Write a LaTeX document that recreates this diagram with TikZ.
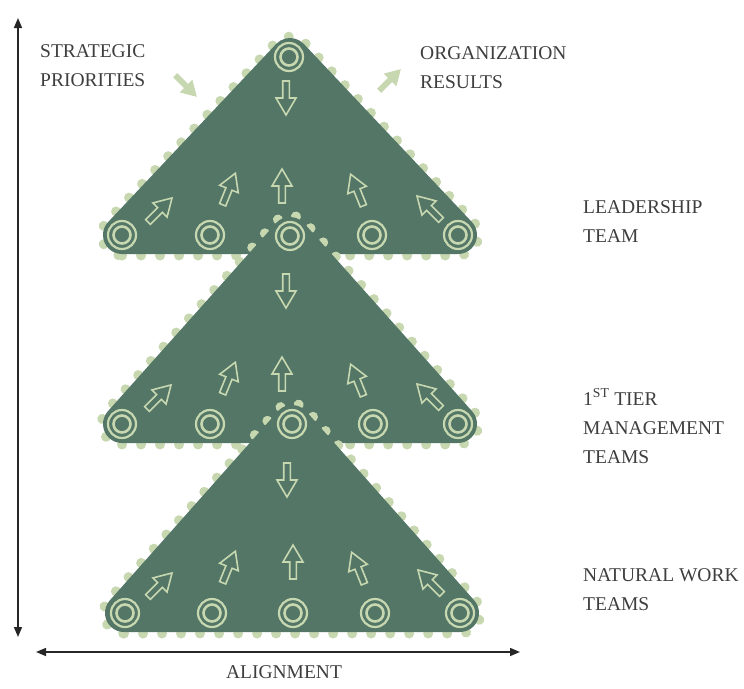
\documentclass[tikz,border=0pt]{standalone}
\usepackage{fontspec}
\setmainfont{Liberation Serif}
\usetikzlibrary{arrows.meta,calc}

\definecolor{pine}{RGB}{83,118,102}
\definecolor{sage}{RGB}{199,215,176}
\definecolor{inkgray}{RGB}{62,62,62}

\tikzset{
  lbl/.style={font=\fontsize{19.5}{29}\selectfont, text=inkgray, align=left, anchor=west, inner sep=0pt},
  bumps/.style={draw=sage, line width=10pt, line cap=round, dash pattern=on 0.01pt off 19pt},
  axis/.style={line width=1.5pt, draw=black!85,
    {Triangle[length=10pt,width=8pt]}-{Triangle[length=10pt,width=8pt]}},
  hollow/.style={draw=sage, line width=1.6pt, fill=pine, line join=miter},
  solid/.style={fill=sage, draw=none},
  pics/blockarrow/.style={code={
    \path[pic actions] (-17pt,-3.3pt) -- (0pt,-3.3pt) -- (0pt,-10pt) -- (17pt,0pt)
      -- (0pt,10pt) -- (0pt,3.3pt) -- (-17pt,3.3pt) -- cycle;
  }},
  pics/hub/.style={code={
    \draw[sage, line width=2.2pt] (0,0) circle[radius=14pt];
    \draw[sage, line width=2.6pt] (0,0) circle[radius=8.5pt];
  }},
}

% outline of a pyramid: the triangle pA-pL-pR grown by radius #1
\def\pyroutline#1{($(pL)+(-90:#1)$) -- ($(pR)+(-90:#1)$)
  arc[start angle=-90, end angle={90-\pang}, radius=#1]
  -- ($(pA)+({90-\pang}:#1)$)
  arc[start angle={90-\pang}, end angle={90+\pang}, radius=#1]
  -- ($(pL)+({90+\pang}:#1)$)
  arc[start angle={90+\pang}, end angle=270, radius=#1] -- cycle}

% #1 centre x, #2 apex y, #3 base y, #4 half width
\newcommand\pyramid[4]{%
  \pgfmathsetmacro\pang{atan2(#3-#2,#4)}%
  \coordinate (pA) at (#1,#2);
  \coordinate (pL) at ({#1-#4},#3);
  \coordinate (pR) at ({#1+#4},#3);
  \draw[bumps] \pyroutline{20.5pt};
  \fill[pine] \pyroutline{19pt};
}

\begin{document}
\begin{tikzpicture}[x=1pt, y=-1pt]
\useasboundingbox (0,0) rectangle (744,688);

% ---------- leadership team ----------
\pyramid{290}{57}{235}{168}
\pic at (289,57) {hub};
\foreach \hx in {122,210,372,458} \pic at (\hx,235) {hub};
\pic[hollow, rotate=-90] at (286,98) {blockarrow};
\pic[hollow, rotate=45]  at (160,210) {blockarrow};
\pic[hollow, rotate=68]  at (229,189) {blockarrow};
\pic[hollow, rotate=90]  at (282,186) {blockarrow};
\pic[hollow, rotate=112] at (357,190) {blockarrow};
\pic[hollow, rotate=135] at (429,208) {blockarrow};

% ---------- first tier management ----------
\pyramid{290}{236}{424}{168}
\pic at (290,236) {hub};
\foreach \hx in {122,210,373,458} \pic at (\hx,424) {hub};
\pic[hollow, rotate=-90] at (286,291) {blockarrow};
\pic[hollow, rotate=45]  at (159,397) {blockarrow};
\pic[hollow, rotate=68]  at (229,378) {blockarrow};
\pic[hollow, rotate=90]  at (282,374) {blockarrow};
\pic[hollow, rotate=112] at (357,380) {blockarrow};
\pic[hollow, rotate=135] at (429,396) {blockarrow};

% ---------- natural work teams ----------
\pyramid{292}{424}{613}{168}
\pic at (292,424) {hub};
\foreach \hx in {125,212,293,375,460} \pic at (\hx,613) {hub};
\pic[hollow, rotate=-90] at (287,480) {blockarrow};
\pic[hollow, rotate=45]  at (160,585) {blockarrow};
\pic[hollow, rotate=68]  at (229,567) {blockarrow};
\pic[hollow, rotate=90]  at (293,562) {blockarrow};
\pic[hollow, rotate=112] at (358,568) {blockarrow};
\pic[hollow, rotate=135] at (430,582) {blockarrow};

% inputs and outputs
\pic[solid, rotate=-45, scale=0.9] at (186,86) {blockarrow};
\pic[solid, rotate=45, scale=0.9]  at (390,80) {blockarrow};

% axes
\coordinate (vtop) at (18,18);
\coordinate (vbot) at (18,637);
\draw[axis] (vtop) -- (vbot);
\coordinate (hleft) at (36,652);
\coordinate (hright) at (520,652);
\draw[axis] (hleft) -- (hright);

% labels
\node[lbl] (strat) at (40,66) {STRATEGIC\\PRIORITIES};
\node[lbl] (orgres) at (420,68) {ORGANIZATION\\RESULTS};
\node[lbl] (lead) at (583,222) {LEADERSHIP\\TEAM};
\node[lbl] (tier) at (583,426) {1\textsuperscript{ST} TIER\\MANAGEMENT\\TEAMS};
\node[lbl] (natural) at (583,590) {NATURAL WORK\\TEAMS};
\node[lbl, anchor=center] (alignlbl) at (284,672) {ALIGNMENT};
\end{tikzpicture}
\end{document}
